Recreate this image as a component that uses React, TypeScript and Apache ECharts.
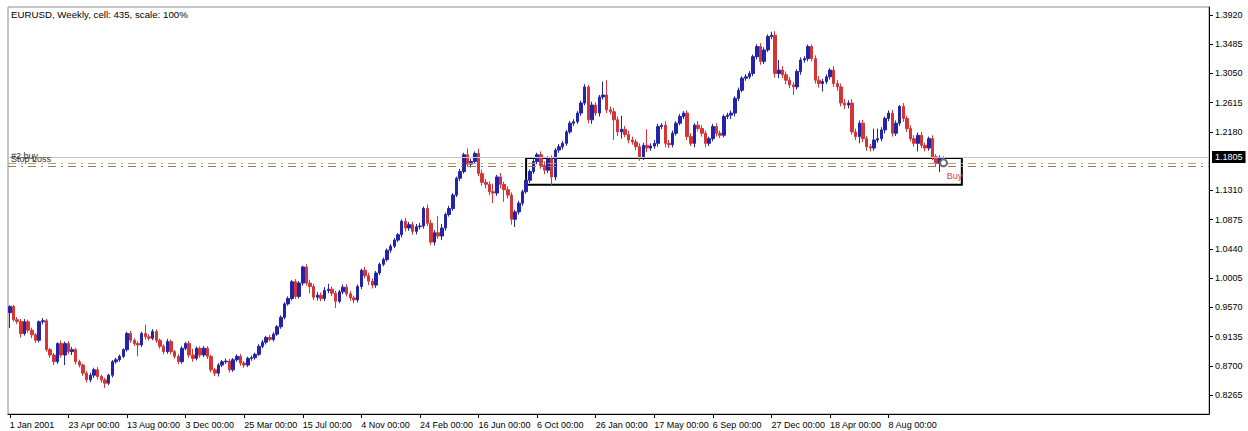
import React, { useEffect, useRef } from "react";
import * as echarts from "echarts";

const START_DATE_UTC = Date.UTC(2001, 0, 1);
const WEEK_COUNT = 328;
const FIRST_OPEN = 0.949;

const closes = [
  0.958, 0.9385, 0.936, 0.918, 0.9355, 0.923, 0.916, 0.908, 0.9355, 0.937, 0.894, 0.886, 0.876, 0.903, 0.886, 0.903,
  0.891, 0.894, 0.876, 0.871, 0.859, 0.849, 0.856, 0.864, 0.854, 0.849, 0.844, 0.856, 0.876, 0.879, 0.884, 0.894,
  0.918, 0.908, 0.903, 0.901, 0.918, 0.913, 0.911, 0.921, 0.908, 0.899, 0.891, 0.906, 0.891, 0.884, 0.876, 0.896,
  0.903, 0.886, 0.881, 0.896, 0.886, 0.896, 0.884, 0.864, 0.859, 0.871, 0.876, 0.877, 0.864, 0.879, 0.884, 0.874,
  0.871, 0.881, 0.882, 0.887, 0.899, 0.905, 0.912, 0.909, 0.917, 0.928, 0.942, 0.962, 0.97, 0.995, 0.973, 0.993,
  1.017, 0.993, 0.988, 0.972, 0.975, 0.97, 0.982, 0.984, 0.978, 0.966, 0.98, 0.987, 0.977, 0.971, 0.968, 0.988,
  1.012, 1.004, 0.996, 0.99, 1.008, 1.021, 1.028, 1.042, 1.048, 1.057, 1.065, 1.085, 1.075, 1.08, 1.07, 1.077,
  1.078, 1.104, 1.082, 1.054, 1.068, 1.063, 1.075, 1.095, 1.104, 1.124, 1.149, 1.159, 1.184, 1.17, 1.174, 1.186,
  1.156, 1.143, 1.14, 1.129, 1.127, 1.151, 1.14, 1.132, 1.124, 1.088, 1.099, 1.112, 1.129, 1.146, 1.159, 1.174,
  1.184, 1.168, 1.161, 1.178, 1.151, 1.191, 1.196, 1.201, 1.218, 1.231, 1.233, 1.246, 1.261, 1.285, 1.236, 1.258,
  1.246, 1.27, 1.273, 1.251, 1.248, 1.236, 1.218, 1.222, 1.214, 1.206, 1.203, 1.196, 1.181, 1.198, 1.194, 1.197,
  1.201, 1.226, 1.228, 1.201, 1.199, 1.216, 1.231, 1.241, 1.246, 1.211, 1.201, 1.228, 1.223, 1.216, 1.201, 1.208,
  1.226, 1.216, 1.213, 1.241, 1.243, 1.246, 1.268, 1.28, 1.298, 1.3, 1.305, 1.33, 1.345, 1.323, 1.34, 1.36,
  1.362, 1.305, 1.31, 1.303, 1.295, 1.288, 1.285, 1.308, 1.325, 1.327, 1.345, 1.327, 1.295, 1.29, 1.293, 1.3,
  1.31, 1.29, 1.285, 1.261, 1.258, 1.261, 1.218, 1.211, 1.231, 1.208, 1.196, 1.194, 1.206, 1.208, 1.221, 1.238,
  1.246, 1.216, 1.231, 1.256, 1.238, 1.223, 1.208, 1.201, 1.213, 1.198, 1.194, 1.208, 1.181, 1.171, 1.179, 1.176,
];

// wick lengths in pips (0.0001)
const upperWicks = [
  20, 25, 40, 35, 40, 30, 35, 30, 20, 40, 30, 25, 30, 20, 45, 30,
  35, 40, 30, 30, 25, 30, 35, 30, 40, 25, 30, 20, 25, 30, 25, 20,
  25, 40, 30, 35, 25, 130, 40, 35, 30, 25, 30, 40, 30, 25, 30, 30,
  25, 40, 90, 25, 30, 35, 30, 25, 30, 30, 25, 40, 30, 25, 30, 35,
  30, 25, 30, 25, 30, 35, 25, 40, 30, 25, 30, 25, 30, 25, 40, 30,
  20, 40, 50, 40, 45, 40, 50, 80, 40, 35, 30, 40, 45, 40, 35, 30,
  25, 50, 45, 40, 30, 25, 30, 25, 30, 30, 25, 30, 50, 40, 45, 40,
  45, 30, 60, 50, 40, 250, 60, 30, 40, 30, 25, 40, 30, 95, 40, 30,
  70, 60, 50, 45, 120, 30, 60, 40, 50, 40, 30, 35, 30, 40, 30, 35,
  30, 50, 60, 40, 50, 30, 40, 35, 30, 35, 40, 30, 35, 40, 30, 50,
  40, 30, 200, 220, 50, 60, 50, 200, 50, 60, 50, 40, 50, 40, 240, 40,
  50, 40, 30, 60, 50, 40, 30, 35, 30, 40, 50, 30, 60, 50, 40, 30,
  40, 50, 40, 30, 35, 40, 30, 40, 30, 40, 35, 30, 35, 50, 40, 30,
  50, 60, 150, 60, 50, 50, 40, 30, 40, 35, 30, 30, 50, 60, 40, 35,
  30, 60, 50, 50, 60, 40, 60, 50, 40, 50, 40, 40, 170, 150, 40, 30,
  40, 50, 40, 20, 50, 40, 50, 50, 40, 50, 40, 30, 50, 40, 40, 30,
];

const lowerWicks = [
  230, 30, 40, 60, 30, 40, 50, 40, 30, 40, 30, 40, 50, 30, 40, 150,
  40, 50, 40, 35, 40, 40, 35, 40, 45, 40, 70, 30, 35, 30, 30, 25,
  30, 40, 35, 170, 30, 40, 35, 30, 40, 35, 40, 30, 40, 35, 40, 30,
  30, 40, 50, 30, 40, 30, 40, 40, 45, 50, 30, 35, 40, 30, 30, 40,
  40, 30, 35, 30, 25, 30, 35, 30, 30, 25, 30, 30, 25, 30, 35, 30,
  40, 40, 100, 40, 50, 40, 35, 40, 45, 100, 30, 35, 40, 45, 50, 40,
  40, 40, 60, 50, 40, 30, 30, 30, 40, 30, 30, 40, 50, 40, 50, 45,
  40, 40, 40, 40, 50, 40, 60, 40, 30, 35, 30, 40, 30, 40, 50, 40,
  40, 50, 60, 50, 150, 40, 60, 180, 50, 80, 115, 40, 40, 30, 40, 35,
  40, 50, 60, 40, 120, 50, 40, 40, 35, 30, 40, 30, 40, 35, 50, 60,
  40, 50, 40, 50, 40, 300, 60, 100, 40, 50, 40, 50, 60, 50, 60, 40,
  40, 50, 40, 60, 50, 40, 35, 30, 40, 50, 40, 60, 40, 50, 60, 40,
  40, 50, 40, 30, 40, 60, 50, 40, 30, 40, 35, 40, 40, 50, 40, 30,
  40, 60, 70, 50, 60, 50, 120, 40, 50, 40, 40, 40, 50, 60, 120, 40,
  40, 50, 60, 50, 60, 50, 40, 50, 100, 50, 60, 50, 40, 40, 40, 50,
  40, 50, 40, 40, 50, 50, 40, 50, 120, 40, 50, 40, 50, 50, 130, 40,
];

const priceTickLabels = [
  "0.8265", "0.8700", "0.9135", "0.9570", "1.0005", "1.0440", "1.0875",
  "1.1310", "1.2180", "1.2615", "1.3050", "1.3485", "1.3920",
];

const Y_MIN = 0.7982;
const Y_MAX = 1.4039;
const BID_PRICE = 1.1805;
const BUY_LEVEL = 1.1714;
const STOP_LEVEL = 1.1662;
const ZONE_TOP = 1.179;
const ZONE_BOTTOM = 1.1392;
const ZONE_START = 141;
const ZONE_END = 260;
const BUY_MARK_INDEX = 255;
const BUY_MARK_PRICE = 1.172;
const BUY_TEXT_INDEX = 258;
const BUY_TEXT_PRICE = 1.153;
const LABEL_EVERY = 16;

const MONTHS = ["Jan", "Feb", "Mar", "Apr", "May", "Jun", "Jul", "Aug", "Sep", "Oct", "Nov", "Dec"];
const FONT = "'Liberation Sans', Arial, sans-serif";

export default function App() {
  const ref = useRef<HTMLDivElement>(null);

  useEffect(() => {
    if (!ref.current) return;
    const chart = echarts.init(ref.current, null, { renderer: "svg" });

    const weeks: string[] = [];
    for (let i = 0; i < WEEK_COUNT; i++) {
      weeks.push(new Date(START_DATE_UTC + i * 7 * 86400000).toISOString().slice(0, 10));
    }
    const ohlc: number[][] = [];
    let prev = FIRST_OPEN;
    for (let i = 0; i < closes.length; i++) {
      const o = prev;
      const c = closes[i];
      const h = Math.max(o, c) + upperWicks[i] / 10000;
      const l = Math.min(o, c) - lowerWicks[i] / 10000;
      ohlc.push([o, c, l, h]);
      prev = c;
    }
    const showIdx = (idx: number) => idx % LABEL_EVERY === 0 && idx < closes.length;
    const fmtDate = (v: string, idx: number) => {
      const d = new Date(v + "T00:00:00Z");
      if (idx === 0) return `${d.getUTCDate()} ${MONTHS[d.getUTCMonth()]} ${d.getUTCFullYear()}`;
      return `${d.getUTCDate()} ${MONTHS[d.getUTCMonth()]} 00:00`;
    };
    const tickVals = priceTickLabels.map((s) => parseFloat(s));

    const bull = "#2424aa";
    const bear = "#d43636";

    chart.setOption({
      animation: false,
      backgroundColor: "#ffffff",
      title: {
        text: "EURUSD, Weekly, cell: 435, scale: 100%",
        left: 6,
        top: 4,
        textStyle: { fontSize: 9.7, fontWeight: "normal", color: "#000", fontFamily: FONT },
      },
      grid: {
        left: 8,
        right: 39,
        top: 7,
        bottom: 17,
        show: true,
        borderColor: "#8c8c8c",
        borderWidth: 1,
      },
      xAxis: {
        type: "category",
        data: weeks,
        boundaryGap: true,
        axisLine: { show: true, lineStyle: { color: "#000", width: 1 } },
        axisTick: { show: true, alignWithLabel: true, interval: (idx: number) => showIdx(idx), length: 4, lineStyle: { color: "#000" } },
        axisLabel: {
          interval: (idx: number) => showIdx(idx),
          formatter: fmtDate,
          align: "left",
          fontSize: 9,
          color: "#000",
          margin: 6,
          fontFamily: FONT,
        },
        splitLine: { show: false },
      },
      yAxis: {
        type: "value",
        position: "right",
        min: Y_MIN,
        max: Y_MAX,
        scale: true,
        axisLine: { show: true, lineStyle: { color: "#000", width: 1 } },
        axisTick: { show: true, length: 4, customValues: tickVals, lineStyle: { color: "#000" } },
        axisLabel: {
          customValues: tickVals,
          formatter: (v: number) => v.toFixed(4),
          fontSize: 9,
          color: "#000",
          margin: 6,
          fontFamily: FONT,
        },
        splitLine: { show: false },
      },
      series: [
        {
          type: "candlestick",
          data: ohlc,
          barWidth: 3,
          itemStyle: {
            color: bull,
            color0: bear,
            borderColor: bull,
            borderColor0: bear,
            borderWidth: 1,
          },
          markLine: {
            silent: true,
            precision: 4,
            symbol: ["none", "none"],
            animation: false,
            data: [
              {
                yAxis: BID_PRICE,
                lineStyle: { color: "#c4c4c4", type: "solid", width: 1 },
                label: {
                  show: true,
                  position: "end",
                  formatter: BID_PRICE.toFixed(4),
                  backgroundColor: "#000",
                  color: "#fff",
                  padding: [2, 3, 1, 3],
                  fontSize: 9,
                  fontFamily: FONT,
                  distance: 3,
                },
              },
              {
                yAxis: BUY_LEVEL,
                lineStyle: { color: "#c49a66", type: [8, 5, 2, 5], width: 1.2 },
                label: {
                  show: true,
                  position: "insideStartTop",
                  formatter: "#2 buy",
                  color: "#303030",
                  fontSize: 9,
                  fontFamily: FONT,
                  distance: 3,
                },
              },
              {
                yAxis: STOP_LEVEL,
                lineStyle: { color: "#8f7e62", type: [8, 5, 2, 5], width: 1.2 },
                label: {
                  show: true,
                  position: "insideStartTop",
                  formatter: "Stop Loss",
                  color: "#303030",
                  fontSize: 9,
                  fontFamily: FONT,
                  distance: 3,
                },
              },
            ],
          },
          markArea: {
            silent: true,
            itemStyle: { color: "rgba(0,0,0,0)", borderColor: "#000", borderWidth: 2 },
            data: [
              [
                { xAxis: weeks[ZONE_START], yAxis: ZONE_TOP },
                { xAxis: weeks[ZONE_END], yAxis: ZONE_BOTTOM },
              ],
            ],
          },
          markPoint: {
            silent: true,
            data: [
              {
                coord: [weeks[BUY_MARK_INDEX], BUY_MARK_PRICE],
                symbol: "emptyCircle",
                symbolSize: 7,
                itemStyle: { color: "#6a6a6a", borderColor: "#6a6a6a", borderWidth: 1 },
                label: { show: false },
              },
              {
                coord: [weeks[BUY_TEXT_INDEX], BUY_TEXT_PRICE],
                symbol: "rect",
                symbolSize: 0,
                label: {
                  show: true,
                  position: "inside",
                  formatter: "Buy",
                  color: "#e04040",
                  fontSize: 9,
                  fontFamily: FONT,
                },
              },
            ],
          },
        },
      ],
    });

    return () => chart.dispose();
  }, []);

  return <div ref={ref} style={{ position: "absolute", left: 0, top: 0, width: 1248, height: 431 }} />;
}
